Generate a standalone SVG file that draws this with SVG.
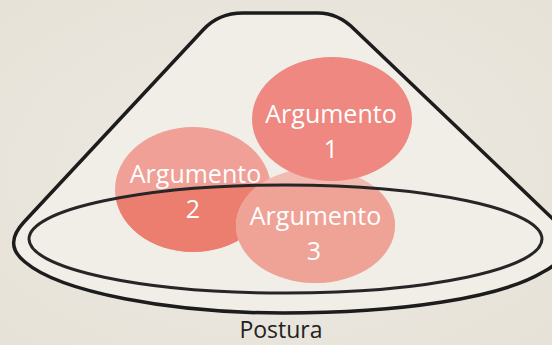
<svg xmlns="http://www.w3.org/2000/svg" width="552" height="345" viewBox="0 0 552 345">
  <defs>
    <clipPath id="inner">
      <ellipse cx="285.5" cy="239" rx="256.5" ry="54"/>
    </clipPath>
    <radialGradient id="bg" cx="0.5" cy="0.5" r="0.7">
      <stop offset="0" stop-color="#EEEAE2"/>
      <stop offset="1" stop-color="#E7E2D8"/>
    </radialGradient>
  </defs>
  <style>
    .lbl { font-family: "Open Sans", "Liberation Sans", sans-serif; font-weight: 400; font-size: 25px; fill: #FFFFFF; text-anchor: middle; }
    .cap { font-family: "Open Sans", "Liberation Sans", sans-serif; font-weight: 400; font-size: 23px; fill: #222222; text-anchor: middle; }
    .line { fill: #F1EEE8; stroke: #1C1C1C; stroke-width: 3.5; stroke-linejoin: round; }
    .ring { fill: none; stroke: #262626; stroke-width: 3; }
  </style>
  <rect x="0" y="0" width="552" height="345" fill="url(#bg)"/>
  <g id="postura">
    <path class="line" d="M 243,13 L 318,13 C 333,13 344,19 354,29 L 553,219 C 570,240 565,262 543,272 C 500,298 400,313 283,313 C 170,313 60,292 25,262 C 10,250 10,237 24,222 L 203,30 C 213,19 225,13 243,13 Z"/>
    <text class="cap" x="281" y="338">Postura</text>
  </g>
  <g id="argumento2">
    <ellipse cx="193" cy="189.5" rx="78" ry="62.5" fill="#F0A096"/>
    <ellipse cx="193" cy="189.5" rx="78" ry="62.5" fill="#EC7E70" clip-path="url(#inner)"/>
    <text class="lbl" x="195.5" y="183">Argumento</text>
    <text class="lbl" x="193" y="218">2</text>
  </g>
  <g id="argumento3">
    <ellipse cx="315.5" cy="225.5" rx="79.5" ry="57.5" fill="#F2BBB1"/>
    <ellipse cx="315.5" cy="225.5" rx="79.5" ry="57.5" fill="#EFA396" clip-path="url(#inner)"/>
    <text class="lbl" x="315.5" y="225">Argumento</text>
    <text class="lbl" x="314" y="260">3</text>
  </g>
  <g id="argumento1">
    <ellipse cx="332" cy="119" rx="80" ry="62" fill="#EE8880"/>
    <text class="lbl" x="331" y="123">Argumento</text>
    <text class="lbl" x="331" y="158">1</text>
  </g>
  <g id="connectors">
    <ellipse class="ring" cx="285.5" cy="239" rx="256.5" ry="54"/>
  </g>
</svg>
